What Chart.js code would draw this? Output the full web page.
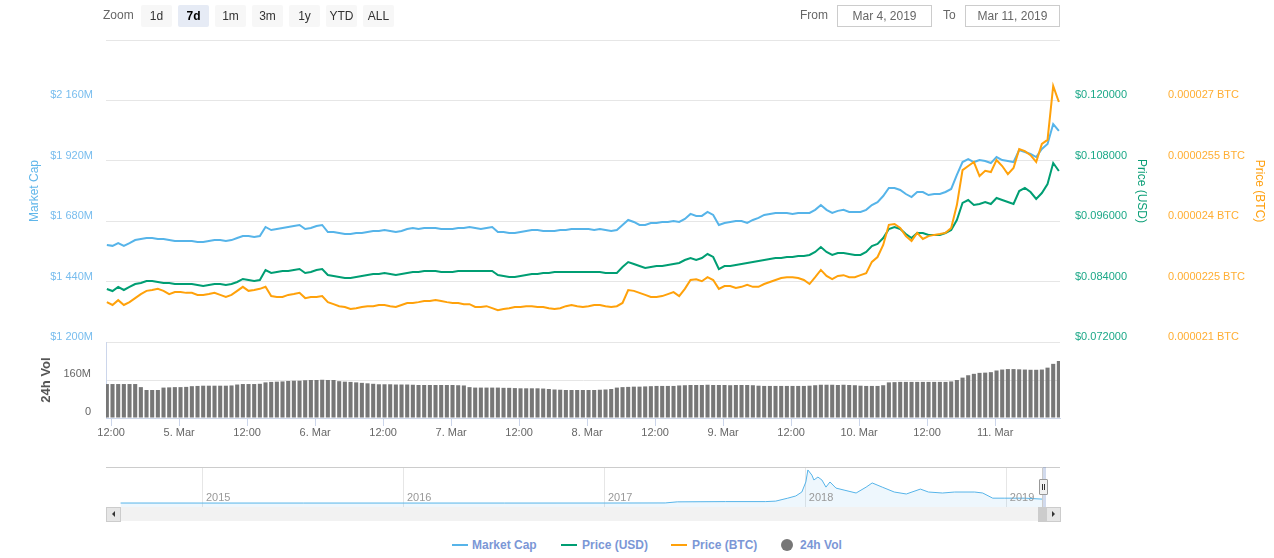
<!DOCTYPE html>
<html>
<head>
<meta charset="utf-8">
<title>Market Cap / Price / 24h Vol</title>
<script src="https://cdn.jsdelivr.net/npm/chart.js@4.4.1/dist/chart.umd.min.js"></script>
<style>
  html, body { margin: 0; padding: 0; background: #fff; }
  body { font-family: "Liberation Sans", Arial, sans-serif; }
  #wrap { position: relative; width: 1274px; height: 558px; overflow: hidden; }
  canvas { position: absolute; left: 0; }
  #mainChart { top: 0; }
  #volChart { top: 312px; }
  #navChart { top: 460px; }
  .abs { position: absolute; }
  .zlabel { left: 103px; top: 6px; font-size: 12px; color: #666; line-height: 18px; }
  .zbtn { top: 5px; width: 31px; height: 22px; line-height: 22px; text-align: center; font-size: 12px; color: #333; background: #f7f7f7; border-radius: 2px; }
  .zbtn.on { background: #e6ebf5; font-weight: bold; color: #000; }
  .dlabel { top: 6px; font-size: 12px; color: #666; line-height: 18px; }
  .dbox { top: 5px; width: 93px; height: 20px; border: 1px solid #ccc; font-size: 12px; color: #666; line-height: 20px; text-align: center; }
  .leg { top: 537px; line-height: 16px; font-size: 12px; font-weight: bold; color: #7b97d6; white-space: nowrap; }
  .sym { top: 544px; width: 16px; height: 2px; }
  .dot { top: 539px; width: 12px; height: 12px; border-radius: 6px; background: #777; }
  .sbtn { top: 507px; width: 13px; height: 13px; background: #e6e6e6; border: 1px solid #ccc; }
  .arrow { position: absolute; top: 3px; width: 0; height: 0; border-top: 3.5px solid transparent; border-bottom: 3.5px solid transparent; }
</style>
</head>
<body>
<div id="wrap">
  <canvas id="mainChart" width="1274" height="370"></canvas>
  <canvas id="volChart" width="1274" height="138"></canvas>
  <canvas id="navChart" width="1274" height="50"></canvas>

  <div class="abs zlabel">Zoom</div>
  <div class="abs zbtn" style="left:141px">1d</div>
  <div class="abs zbtn on" style="left:178px">7d</div>
  <div class="abs zbtn" style="left:215px">1m</div>
  <div class="abs zbtn" style="left:252px">3m</div>
  <div class="abs zbtn" style="left:289px">1y</div>
  <div class="abs zbtn" style="left:326px">YTD</div>
  <div class="abs zbtn" style="left:363px">ALL</div>

  <div class="abs dlabel" style="left:800px">From</div>
  <div class="abs dbox" style="left:837px">Mar 4, 2019</div>
  <div class="abs dlabel" style="left:943px">To</div>
  <div class="abs dbox" style="left:965px">Mar 11, 2019</div>

  <!-- navigator outline, selection and scrollbar -->
  <div class="abs" style="left:106px;top:467px;width:954px;height:1px;background:#ccc"></div>
  <div class="abs" style="left:1042px;top:467px;width:4px;height:40px;background:rgba(102,133,194,0.3)"></div>
  <div class="abs" style="left:1042px;top:467px;width:1px;height:40px;background:#ccc"></div>
  <div class="abs" style="left:106px;top:507px;width:954px;height:14px;background:#f2f2f2"></div>
  <div class="abs" style="left:1038px;top:507px;width:7px;height:13px;background:#ccc;border:1px solid #ccc"></div>
  <div class="abs sbtn" style="left:106px"><div class="arrow" style="left:5px;border-right:3.5px solid #333"></div></div>
  <div class="abs sbtn" style="left:1046px"><div class="arrow" style="left:5px;border-left:3.5px solid #333"></div></div>
  <div class="abs" style="left:1039px;top:479px;width:7px;height:14px;background:#f2f2f2;border:1px solid #999;border-radius:1px">
    <div class="abs" style="left:2px;top:4px;width:1px;height:6px;background:#333"></div>
    <div class="abs" style="left:4px;top:4px;width:1px;height:6px;background:#333"></div>
  </div>

  <div class="abs sym" style="left:452px;background:#56b4e9"></div>
  <div class="abs leg" style="left:472px">Market Cap</div>
  <div class="abs sym" style="left:561px;background:#009e73"></div>
  <div class="abs leg" style="left:582px">Price (USD)</div>
  <div class="abs sym" style="left:671px;background:#ffa10a"></div>
  <div class="abs leg" style="left:692px">Price (BTC)</div>
  <div class="abs dot" style="left:781px"></div>
  <div class="abs leg" style="left:800px">24h Vol</div>
</div>

<script>
// hourly readings, first one on Mar 4 at 11:15 (hours counted from Mar 4 00:00)
const firstHour = 11.25;

// market cap, millions of USD
const marketCapM = [
  1585, 1582, 1593, 1582, 1593, 1605, 1609, 1613, 1613, 1609,
  1609, 1605, 1601, 1601, 1601, 1601, 1597, 1597, 1601, 1605,
  1605, 1601, 1605, 1613, 1621, 1621, 1617, 1621, 1657, 1645,
  1649, 1653, 1657, 1661, 1665, 1649, 1653, 1661, 1665, 1637,
  1637, 1633, 1629, 1629, 1633, 1633, 1637, 1641, 1641, 1645,
  1641, 1637, 1641, 1649, 1653, 1649, 1653, 1653, 1653, 1649,
  1649, 1649, 1653, 1653, 1657, 1653, 1649, 1653, 1657, 1637,
  1637, 1633, 1633, 1637, 1641, 1645, 1645, 1641, 1641, 1641,
  1645, 1645, 1649, 1649, 1649, 1649, 1645, 1649, 1645, 1641,
  1645, 1665, 1685, 1677, 1665, 1665, 1673, 1673, 1677, 1677,
  1681, 1677, 1689, 1709, 1701, 1701, 1717, 1705, 1665, 1673,
  1677, 1681, 1681, 1673, 1685, 1693, 1705, 1709, 1713, 1713,
  1713, 1709, 1713, 1713, 1713, 1725, 1744, 1725, 1713, 1721,
  1725, 1717, 1717, 1717, 1725, 1744, 1756, 1780, 1812, 1812,
  1804, 1788, 1776, 1796, 1796, 1784, 1788, 1788, 1796, 1808,
  1864, 1915, 1927, 1915, 1923, 1919, 1911, 1935, 1923, 1919,
  1915, 1963, 1955, 1947, 1935, 1967, 1987, 2066, 2039
];

// price in USD
const priceUsd = [
  0.08253, 0.08213, 0.08293, 0.08233, 0.08293, 0.08352, 0.08372, 0.08412, 0.08412, 0.08392,
  0.08372, 0.08372, 0.08352, 0.08352, 0.08352, 0.08352, 0.08332, 0.08313, 0.08332, 0.08352,
  0.08352, 0.08332, 0.08352, 0.08392, 0.08452, 0.08432, 0.08412, 0.08432, 0.08630, 0.08571,
  0.08591, 0.08611, 0.08611, 0.08630, 0.08650, 0.08571, 0.08591, 0.08630, 0.08650, 0.08531,
  0.08511, 0.08491, 0.08472, 0.08472, 0.08491, 0.08511, 0.08531, 0.08551, 0.08551, 0.08571,
  0.08551, 0.08531, 0.08551, 0.08571, 0.08591, 0.08591, 0.08611, 0.08611, 0.08611, 0.08591,
  0.08591, 0.08591, 0.08611, 0.08611, 0.08611, 0.08611, 0.08611, 0.08611, 0.08611, 0.08531,
  0.08511, 0.08491, 0.08491, 0.08511, 0.08531, 0.08551, 0.08551, 0.08571, 0.08571, 0.08591,
  0.08591, 0.08591, 0.08591, 0.08591, 0.08591, 0.08591, 0.08591, 0.08591, 0.08571, 0.08571,
  0.08571, 0.08690, 0.08789, 0.08750, 0.08710, 0.08670, 0.08690, 0.08710, 0.08710, 0.08730,
  0.08750, 0.08770, 0.08829, 0.08869, 0.08829, 0.08869, 0.08948, 0.08889, 0.08650, 0.08710,
  0.08710, 0.08730, 0.08750, 0.08770, 0.08789, 0.08809, 0.08829, 0.08849, 0.08869, 0.08869,
  0.08889, 0.08889, 0.08909, 0.08909, 0.08929, 0.08988, 0.09088, 0.08988, 0.08929, 0.08968,
  0.08968, 0.08948, 0.08929, 0.08929, 0.08988, 0.09107, 0.09147, 0.09266, 0.09445, 0.09485,
  0.09445, 0.09346, 0.09266, 0.09366, 0.09366, 0.09326, 0.09326, 0.09326, 0.09366, 0.09425,
  0.09624, 0.09962, 0.10021, 0.09922, 0.09942, 0.09982, 0.09942, 0.10061, 0.10021, 0.09982,
  0.09942, 0.10200, 0.10260, 0.10180, 0.10041, 0.10160, 0.10339, 0.10756, 0.10597
];

// price in BTC
const priceBtc = [
  0.00002199, 0.00002192, 0.00002204, 0.00002192, 0.00002199, 0.00002209, 0.00002219, 0.00002227, 0.00002229, 0.00002232,
  0.00002227, 0.00002219, 0.00002224, 0.00002224, 0.00002222, 0.00002222, 0.00002217, 0.00002217, 0.00002219, 0.00002222,
  0.00002217, 0.00002212, 0.00002217, 0.00002227, 0.00002237, 0.00002227, 0.00002229, 0.00002232, 0.00002237, 0.00002214,
  0.00002212, 0.00002212, 0.00002217, 0.00002219, 0.00002222, 0.00002209, 0.00002212, 0.00002212, 0.00002214, 0.00002199,
  0.00002194, 0.00002189, 0.00002187, 0.00002182, 0.00002184, 0.00002187, 0.00002189, 0.00002189, 0.00002192, 0.00002192,
  0.00002189, 0.00002187, 0.00002192, 0.00002197, 0.00002197, 0.00002199, 0.00002202, 0.00002202, 0.00002204, 0.00002202,
  0.00002199, 0.00002197, 0.00002197, 0.00002194, 0.00002194, 0.00002187, 0.00002187, 0.00002189, 0.00002184, 0.00002179,
  0.00002182, 0.00002184, 0.00002187, 0.00002187, 0.00002189, 0.00002189, 0.00002187, 0.00002187, 0.00002184, 0.00002182,
  0.00002184, 0.00002189, 0.00002192, 0.00002189, 0.00002187, 0.00002189, 0.00002192, 0.00002192, 0.00002189, 0.00002187,
  0.00002189, 0.00002197, 0.00002229, 0.00002227, 0.00002222, 0.00002217, 0.00002212, 0.00002212, 0.00002214, 0.00002219,
  0.00002224, 0.00002214, 0.00002232, 0.00002254, 0.00002256, 0.00002251, 0.00002261, 0.00002254, 0.00002232, 0.00002239,
  0.00002239, 0.00002234, 0.00002237, 0.00002242, 0.00002237, 0.00002237, 0.00002244, 0.00002249, 0.00002254, 0.00002259,
  0.00002261, 0.00002261, 0.00002259, 0.00002254, 0.00002244, 0.00002261, 0.00002279, 0.00002264, 0.00002256, 0.00002264,
  0.00002266, 0.00002261, 0.00002261, 0.00002266, 0.00002271, 0.00002299, 0.00002311, 0.00002341, 0.00002391, 0.00002393,
  0.00002383, 0.00002363, 0.00002351, 0.00002371, 0.00002356, 0.00002363, 0.00002366, 0.00002368, 0.00002371, 0.00002383,
  0.00002440, 0.00002527, 0.00002537, 0.00002547, 0.00002512, 0.00002525, 0.00002522, 0.00002552, 0.00002537, 0.00002517,
  0.00002532, 0.00002579, 0.00002574, 0.00002564, 0.00002547, 0.00002592, 0.00002602, 0.00002736, 0.00002696
];

// 24h volume, millions of USD
const volume24hM = [
  143, 143, 143, 143, 143, 143, 130, 118, 118, 118,
  128, 129, 130, 130, 131, 134, 135, 136, 136, 136,
  136, 136, 137, 141, 143, 143, 143, 144, 150, 152,
  153, 154, 156, 157, 157, 159, 160, 160, 161, 160,
  160, 155, 153, 152, 150, 148, 146, 144, 142, 142,
  142, 141, 141, 141, 140, 139, 139, 139, 139, 139,
  139, 139, 138, 137, 130, 128, 128, 128, 128, 128,
  127, 127, 126, 125, 125, 125, 125, 124, 122, 120,
  119, 118, 118, 118, 118, 118, 118, 119, 120, 122,
  128, 130, 131, 132, 132, 133, 134, 135, 135, 135,
  135, 137, 138, 139, 139, 139, 140, 139, 139, 139,
  138, 139, 139, 139, 138, 136, 135, 135, 135, 135,
  135, 135, 135, 135, 136, 138, 140, 140, 140, 139,
  140, 139, 138, 136, 135, 135, 135, 138, 150, 151,
  152, 152, 152, 152, 152, 152, 152, 152, 152, 154,
  160, 170, 180, 186, 190, 191, 193, 200, 204, 206,
  206, 205, 204, 203, 203, 204, 212, 228, 240
];

// x axis (hours from Mar 4 00:00)
const xMin = 11.1, xMax = 179.45;
const xTickHours = [12, 24, 36, 48, 60, 72, 84, 96, 108, 120, 132, 144, 156, 168];
const xTickLabels = ['12:00', '5. Mar', '12:00', '6. Mar', '12:00', '7. Mar', '12:00',
                     '8. Mar', '12:00', '9. Mar', '12:00', '10. Mar', '12:00', '11. Mar'];

// y axes
const mcapTicks = [1200, 1440, 1680, 1920, 2160, 2400];
const usdTicks = [0.072, 0.084, 0.096, 0.108, 0.120, 0.132];
const btcTicks = [0.000021, 0.0000225, 0.000024, 0.0000255, 0.000027, 0.0000285];
const volTicks = [0, 160, 320];

// navigator: whole history of market cap, billions of USD
const navYears = [2014.59, 2015.0, 2015.5, 2016.0, 2016.5, 2017.0, 2017.3, 2017.36, 2017.6, 2017.8,
                  2017.85, 2017.91, 2017.95, 2017.98, 2018.0, 2018.01, 2018.03, 2018.04, 2018.06, 2018.08,
                  2018.10, 2018.12, 2018.15, 2018.19, 2018.25, 2018.30, 2018.33, 2018.38, 2018.44, 2018.50,
                  2018.57, 2018.61, 2018.68, 2018.74, 2018.84, 2018.88, 2018.93, 2018.99, 2019.09, 2019.18];
const navMarketCapB = [0.02, 0.01, 0.01, 0.01, 0.01, 0.02, 0.05, 0.5, 0.6, 0.6,
                       0.8, 2.0, 2.9, 4.5, 8.6, 13.5, 11.4, 9.4, 10.6, 9.4,
                       6.5, 8.6, 6.1, 5.3, 4.1, 6.5, 8.2, 6.5, 4.5, 3.7,
                       5.7, 4.5, 4.1, 4.5, 4.5, 4.1, 2.0, 2.0, 2.0, 1.6];
const navYearTicks = [2015, 2016, 2017, 2018, 2019];

const C_CAP = '#56b4e9';
const C_USD = '#009e73';
const C_BTC = '#ffa10a';

Chart.defaults.font.family = '"Liberation Sans", Arial, sans-serif';
Chart.defaults.font.size = 11;
Chart.defaults.animation = false;
Chart.defaults.plugins.legend.display = false;
Chart.defaults.plugins.tooltip.enabled = false;

const hours = marketCapM.map((_, i) => firstHour + i);
const pts = arr => arr.map((v, i) => ({ x: hours[i], y: v }));
const fixTicks = list => scale => { scale.ticks = list.map(v => ({ value: v })); };
const fixWidth = w => scale => { scale.width = w; };
const spaced = n => String(n).replace(/\B(?=(\d{3})+(?!\d))/g, ' ');
const lastBlank = fmt => (v, i, t) => i === t.length - 1 ? '' : fmt(v);

// main panel: three lines, three y axes
new Chart(document.getElementById('mainChart'), {
  type: 'line',
  data: {
    datasets: [
      { label: 'Market Cap', data: pts(marketCapM), yAxisID: 'yCap', borderColor: C_CAP, order: 3 },
      { label: 'Price (USD)', data: pts(priceUsd), yAxisID: 'yUsd', borderColor: C_USD, order: 2 },
      { label: 'Price (BTC)', data: pts(priceBtc), yAxisID: 'yBtc', borderColor: C_BTC, order: 1 }
    ]
  },
  options: {
    responsive: false,
    layout: { padding: { top: 40, bottom: 28 } },
    elements: { line: { borderWidth: 2, tension: 0 }, point: { radius: 0 } },
    scales: {
      x: { type: 'linear', min: xMin, max: xMax, display: false },
      yCap: {
        position: 'left', min: 1200, max: 2400,
        afterBuildTicks: fixTicks(mcapTicks), afterFit: fixWidth(106),
        grid: { color: '#e6e6e6', drawTicks: false },
        border: { display: false },
        ticks: { color: '#78bdee', padding: 13, labelOffset: -5, autoSkip: false,
                 callback: lastBlank(v => '$' + spaced(v) + 'M') },
        title: { display: true, text: 'Market Cap', color: '#60b6ea', font: { size: 12 }, padding: { top: 27, bottom: 0 } }
      },
      yUsd: {
        position: 'right', weight: 0, min: 0.072, max: 0.132,
        afterBuildTicks: fixTicks(usdTicks), afterFit: fixWidth(93),
        grid: { display: false, drawTicks: false },
        border: { display: false },
        ticks: { color: '#1ca888', padding: 15, labelOffset: -5, autoSkip: false,
                 callback: lastBlank(v => '$' + v.toFixed(6)) },
        title: { display: true, text: 'Price (USD)', color: '#0a9e76', font: { size: 12 }, padding: { top: 4, bottom: 0 } }
      },
      yBtc: {
        position: 'right', weight: 1, min: 0.000021, max: 0.0000285,
        afterBuildTicks: fixTicks(btcTicks), afterFit: fixWidth(121),
        grid: { display: false, drawTicks: false },
        border: { display: false },
        ticks: { color: '#ffae33', padding: 15, labelOffset: -5, autoSkip: false,
                 callback: lastBlank(v => parseFloat(v.toFixed(8)) + ' BTC') },
        title: { display: true, text: 'Price (BTC)', color: '#ffa00f', font: { size: 12 }, padding: { top: 7, bottom: 0 } }
      }
    }
  }
});

// volume panel with the shared time axis
new Chart(document.getElementById('volChart'), {
  type: 'bar',
  data: {
    datasets: [{ label: '24h Vol', data: pts(volume24hM), backgroundColor: '#777',
                 barPercentage: 0.72, categoryPercentage: 1 }]
  },
  options: {
    responsive: false,
    layout: { padding: { top: 30, right: 214 } },
    scales: {
      x: {
        type: 'linear', min: xMin, max: xMax, offset: false,
        afterBuildTicks: fixTicks(xTickHours), afterFit: s => { s.height = 32; },
        grid: { offset: false, drawOnChartArea: false, drawTicks: true, tickLength: 8, tickColor: '#ccd6eb' },
        border: { display: true, color: '#ccd6eb' },
        ticks: { color: '#666', padding: 0, autoSkip: false, maxRotation: 0,
                 callback: (v, i) => xTickLabels[i] }
      },
      y: {
        position: 'left', min: 0, max: 320,
        afterBuildTicks: fixTicks(volTicks), afterFit: fixWidth(106),
        grid: { color: ctx => (ctx.tick && ctx.tick.value === 0) ? 'rgba(0,0,0,0)' : '#e6e6e6', drawTicks: false },
        border: { display: true, color: '#ccd6eb' },
        ticks: { color: '#666', padding: 15, labelOffset: -6, autoSkip: false,
                 callback: lastBlank(v => v === 0 ? '0' : v + 'M') },
        title: { display: true, text: '24h Vol', color: '#555', font: { size: 13, weight: 'bold' }, padding: { top: 39, bottom: 0 } }
      }
    }
  }
});

// year labels of the navigator sit inside its plot, next to each grid line
const navYearLabels = {
  id: 'navYearLabels',
  afterDatasetsDraw(chart) {
    const { ctx, chartArea, scales } = chart;
    ctx.save();
    ctx.font = '11px "Liberation Sans", Arial, sans-serif';
    ctx.fillStyle = '#999';
    ctx.textAlign = 'left';
    ctx.textBaseline = 'middle';
    navYearTicks.forEach(y => {
      ctx.fillText(String(y), scales.x.getPixelForValue(y) + 3, chartArea.bottom - 9);
    });
    ctx.restore();
  }
};

// navigator
new Chart(document.getElementById('navChart'), {
  type: 'line',
  data: {
    datasets: [{
      data: navYears.map((x, i) => ({ x: x, y: navMarketCapB[i] })),
      borderColor: C_CAP, borderWidth: 1, fill: 'start',
      backgroundColor: 'rgba(86,180,233,0.1)', pointRadius: 0, tension: 0
    }]
  },
  options: {
    responsive: false,
    layout: { padding: { left: 120, right: 228, top: 7, bottom: 3 } },
    scales: {
      x: {
        type: 'linear', min: 2014.587, max: 2019.195,
        afterBuildTicks: fixTicks(navYearTicks), afterFit: s => { s.height = 0; },
        grid: { color: '#e6e6e6', drawTicks: false },
        border: { display: false },
        ticks: { display: false }
      },
      y: { display: false, min: -1.6, max: 14.7 }
    }
  },
  plugins: [navYearLabels]
});
</script>
</body>
</html>
